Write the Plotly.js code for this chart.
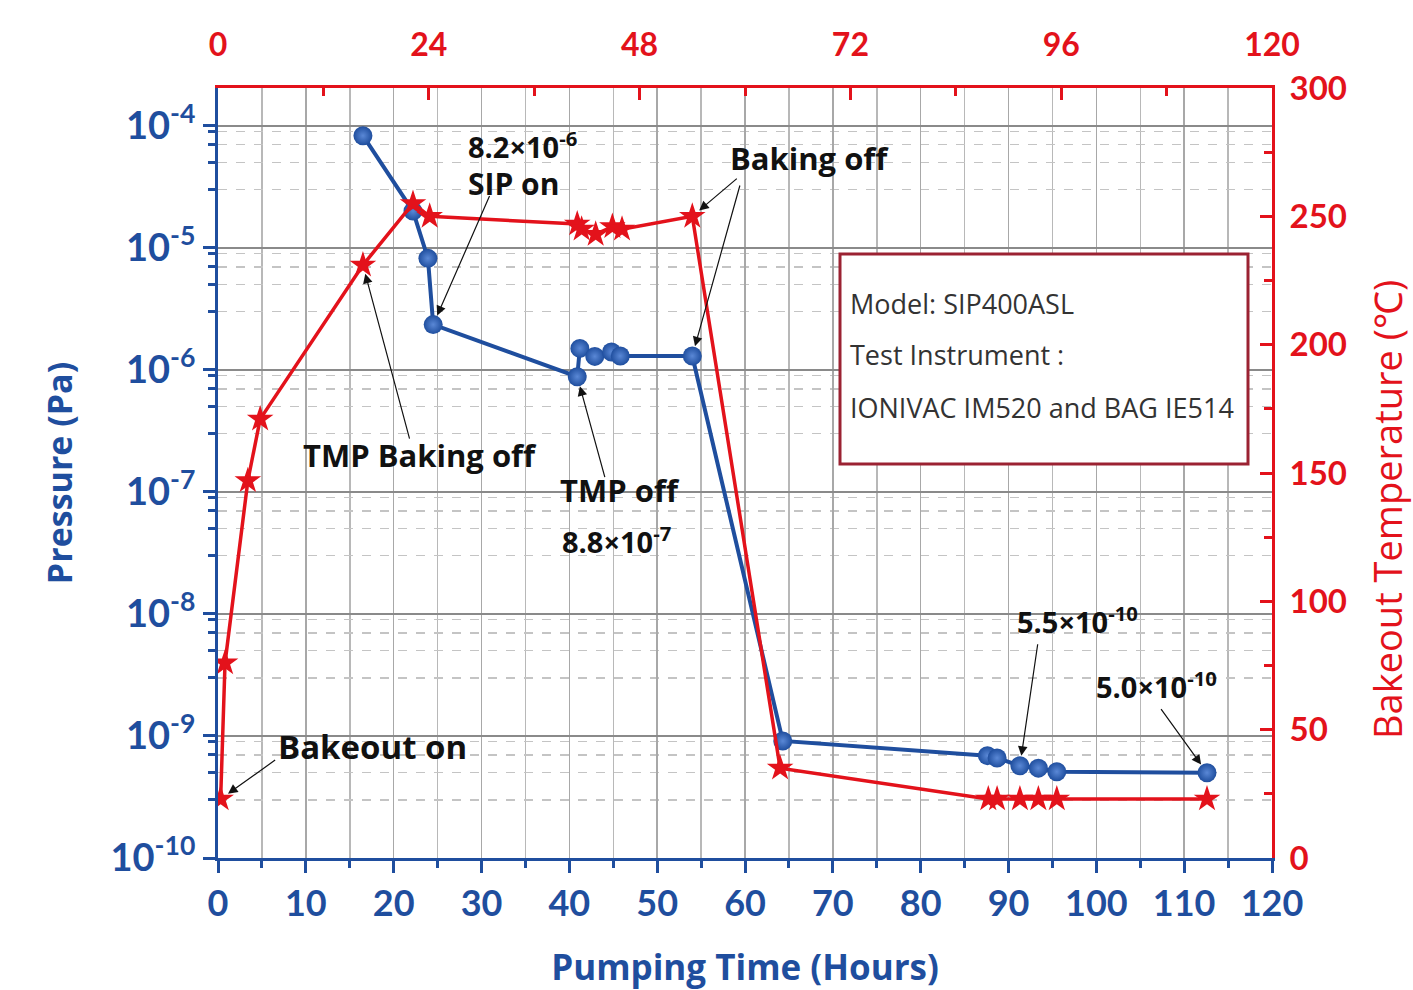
<!DOCTYPE html>
<html>
<head>
<meta charset="utf-8">
<script src="https://cdn.plot.ly/plotly-3.0.1.min.js"></script>
<style>html,body{margin:0;padding:0;background:#fff;}#chart{width:1413px;height:990px;}</style>
</head>
<body>
<div id="chart"></div>
<script>
// ---- data ----
const pressureHours = [16.5, 22.2, 23.9, 24.5, 40.9, 41.2, 42.9, 44.8, 45.8, 54.0, 64.3, 87.6, 88.7, 91.3, 93.4, 95.5, 112.6];
const pressurePa    = [8.3e-5, 2.0e-5, 8.2e-6, 2.35e-6, 8.8e-7, 1.5e-6, 1.29e-6, 1.4e-6, 1.3e-6, 1.3e-6, 9.1e-10, 6.9e-10, 6.6e-10, 5.7e-10, 5.45e-10, 5.1e-10, 5.0e-10];
const tempHours = [0.3, 0.8, 3.4, 4.8, 16.5, 22.2, 24.1, 40.9, 41.4, 43.0, 44.9, 46.0, 54.0, 64.0, 87.7, 88.7, 91.3, 93.4, 95.5, 112.6];
const tempC     = [23, 76, 147, 171, 231, 255, 250, 247, 245, 243, 246, 245, 250, 35, 23, 23, 23, 23, 23, 23];
const pressureExponents = [-10, -9, -8, -7, -6, -5, -4];
const boxLines = ["Model: SIP400ASL", "Test Instrument :", "IONIVAC IM520 and BAG IE514"];

const BLUE = "#1f4e9e";
const RED = "#e3121b";
const FONT = "Lato, 'Open Sans', sans-serif";
const BOLDF = "'Open Sans', Lato, sans-serif";

// plot area in pixels
const L = 218, R = 1272, T = 88, B = 858;
function px(x) { return (x - L) / (R - L); }
function py(y) { return (B - y) / (B - T); }

const majorVals = pressureExponents.map(e => Math.pow(10, e));
const majorText = pressureExponents.map(e => "10<sup>" + e + "</sup>");
const minorP = [];
pressureExponents.forEach(e => [3, 5, 7, 9].forEach(m => { const v = m * Math.pow(10, e); if (v < 2e-4) minorP.push(v); }));

const traces = [
  {
    x: pressureHours, y: pressurePa, xaxis: "x", yaxis: "y",
    mode: "lines+markers", type: "scatter",
    line: { color: BLUE, width: 4 },
    marker: { symbol: "circle", size: 19, color: BLUE, gradient: { type: "radial", color: "#5a88d6" }, line: { width: 0 } },
    showlegend: false
  },
  {
    x: tempHours, y: tempC, xaxis: "x2", yaxis: "y2",
    mode: "lines+markers", type: "scatter",
    line: { color: RED, width: 3.5 },
    marker: { symbol: "star", size: 20, color: RED, line: { width: 0 } },
    showlegend: false
  }
];

function txt(text, x, y, size, extra) {
  return Object.assign({
    text: text, xref: "paper", yref: "paper", x: px(x), y: py(y),
    xanchor: "left", yanchor: "middle", showarrow: false,
    font: { family: BOLDF, size: size, color: "#111", weight: 700 }
  }, extra || {});
}
function arrowBlue(i, ax, ay) {
  return { text: "", xref: "x", yref: "y", x: pressureHours[i], y: Math.log10(pressurePa[i]),
    ax: ax, ay: ay, showarrow: true, arrowhead: 2, arrowsize: 1.6, arrowwidth: 1.2,
    arrowcolor: "#111", standoff: 10 };
}
function arrowRed(i, ax, ay) {
  return { text: "", xref: "x2", yref: "y2", x: tempHours[i], y: tempC[i],
    ax: ax, ay: ay, showarrow: true, arrowhead: 2, arrowsize: 1.6, arrowwidth: 1.2,
    arrowcolor: "#111", standoff: 9 };
}

const annotations = [
  txt("8.2×10<sup>-6</sup>", 466, 145, 29),
  txt("SIP on", 466, 183, 30),
  txt("Baking off", 728, 158, 31),
  txt("TMP Baking off", 301, 455, 31),
  txt("TMP off", 558, 490, 31),
  txt("8.8×10<sup>-7</sup>", 560, 540, 29),
  txt("Bakeout on", 276, 746, 33),
  txt("5.5×10<sup>-10</sup>", 1015, 620, 29),
  txt("5.0×10<sup>-10</sup>", 1094, 685, 29),
  arrowBlue(3, 57, -130),
  arrowRed(12, 46, -39),
  arrowBlue(9, 48, -172),
  arrowRed(4, 47, 175),
  arrowBlue(4, 28, 102),
  arrowRed(0, 56, -40),
  arrowBlue(13, 18, -123),
  arrowBlue(16, -47, -65),
  // right axis title (placed below centre, as in the reference)
  { text: "Bakeout Temperature (℃)", xref: "paper", yref: "paper", x: px(1387), y: py(510),
    xanchor: "center", yanchor: "middle", textangle: -90, showarrow: false,
    font: { family: BOLDF, size: 38, color: RED } }
];
boxLines.forEach((s, k) => {
  annotations.push({ text: s, xref: "paper", yref: "paper", x: px(848), y: py(303 + 52 * k),
    xanchor: "left", yanchor: "middle", showarrow: false,
    font: { family: "'Open Sans', sans-serif", size: 27, color: "#333" } });
});

const layout = {
  width: 1413, height: 990,
  margin: { l: L, r: 1413 - R, t: T, b: 990 - B, pad: 0 },
  paper_bgcolor: "#fff", plot_bgcolor: "#fff",
  showlegend: false,
  xaxis: {
    range: [0, 120], dtick: 10, tick0: 0,
    ticks: "outside", ticklen: 12, tickwidth: 3, tickcolor: BLUE,
    showline: true, linecolor: BLUE, linewidth: 3,
    showgrid: true, gridcolor: "#a8a8a8", gridwidth: 1.5,
    zeroline: false,
    tickfont: { family: FONT, size: 36, color: BLUE, weight: 700 },
    minor: { dtick: 5, ticks: "outside", ticklen: 7, tickwidth: 3, tickcolor: BLUE, showgrid: true, gridcolor: "#b8b8b8", gridwidth: 1.5 },
    title: { text: "Pumping Time (Hours)", font: { family: BOLDF, size: 35, color: BLUE, weight: 700 }, standoff: 41 }
  },
  xaxis2: {
    overlaying: "x", side: "top", anchor: "y2",
    range: [0, 120], dtick: 24, tick0: 0,
    ticks: "inside", ticklen: 12, tickwidth: 3, tickcolor: RED,
    showline: true, linecolor: RED, linewidth: 3,
    showgrid: false, zeroline: false,
    ticklabelstandoff: 16,
    tickfont: { family: FONT, size: 32, color: RED, weight: 700 },
    minor: { dtick: 12, ticks: "inside", ticklen: 8, tickwidth: 3, tickcolor: RED, showgrid: false }
  },
  yaxis: {
    type: "log", range: [-10, -3.69],
    tickmode: "array", tickvals: majorVals, ticktext: majorText,
    ticks: "outside", ticklen: 12, tickwidth: 3, tickcolor: BLUE,
    showline: true, linecolor: BLUE, linewidth: 3,
    showgrid: true, gridcolor: "#8a8a8a", gridwidth: 1.5,
    zeroline: false,
    tickfont: { family: FONT, size: 38, color: BLUE, weight: 700 },
    minor: { tickmode: "array", tickvals: minorP, ticks: "outside", ticklen: 7, tickwidth: 3, tickcolor: BLUE,
             showgrid: true, gridcolor: "#c4c4c4", gridwidth: 1.5, griddash: "dash" },
    title: { text: "Pressure (Pa)", font: { family: BOLDF, size: 34, color: BLUE, weight: 700 }, standoff: 28 }
  },
  yaxis2: {
    overlaying: "y", side: "right", anchor: "x2",
    range: [0, 300], dtick: 50, tick0: 0,
    ticks: "inside", ticklen: 12, tickwidth: 3, tickcolor: RED,
    showline: true, linecolor: RED, linewidth: 3,
    showgrid: false, zeroline: false,
    ticklabelstandoff: 8,
    tickfont: { family: FONT, size: 33, color: RED, weight: 700 },
    minor: { dtick: 25, ticks: "inside", ticklen: 8, tickwidth: 3, tickcolor: RED, showgrid: false }
  },
  shapes: [
    { type: "rect", xref: "paper", yref: "paper", x0: px(840), x1: px(1248), y0: py(464), y1: py(254),
      line: { color: "#9b2232", width: 3 }, fillcolor: "#fff", layer: "above" }
  ],
  annotations: annotations
};

Plotly.newPlot("chart", traces, layout, { displayModeBar: false, staticPlot: true });
</script>
</body>
</html>
